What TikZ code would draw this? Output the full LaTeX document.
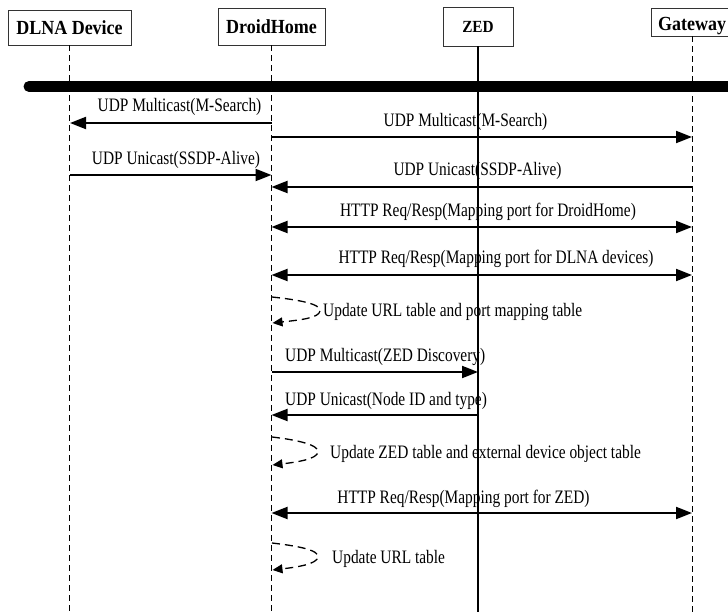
\documentclass[tikz,border=0pt]{standalone}
\usepackage{fontspec}
\setmainfont{Liberation Serif}
\newfontfamily\lblfont[FakeStretch=0.81]{Liberation Serif}
\newfontfamily\hdrfont[FakeStretch=0.9]{Liberation Serif}
\usetikzlibrary{arrows.meta}
\tikzset{
  hdr/.style={draw=black!80, line width=0.9pt, inner sep=0pt, font=\hdrfont\bfseries\fontsize{20}{22}\selectfont},
  hdrtext/.style={inner sep=0pt, font=\hdrfont\bfseries\fontsize{20}{22}\selectfont},
  life/.style={line width=0.8pt, dash pattern=on 6pt off 4pt},
  msg/.style={line width=2pt, -{Triangle[length=16pt,width=12pt]}},
  dmsg/.style={line width=2pt, {Triangle[length=16pt,width=12pt]}-{Triangle[length=16pt,width=12pt]}},
  selfloop/.style={line width=1.3pt, dash pattern=on 8pt off 5pt, -{Triangle[length=10pt,width=9pt]}},
  lbl/.style={inner sep=0pt, font=\lblfont\fontsize{19}{21}\selectfont},
}
\begin{document}
\begin{tikzpicture}[x=1pt,y=-1pt]
\useasboundingbox (0,0) rectangle (728,612);
\clip (0,0) rectangle (728,612);
% headers
\node[hdr, minimum width=123pt, minimum height=35pt] (dl) at (69.5,27.5) {DLNA Device};
\node[hdr, minimum width=107pt, minimum height=37pt] (dh) at (271.5,26.5) {DroidHome};
\node[hdr, minimum width=70pt, minimum height=39pt, font=\hdrfont\bfseries\fontsize{17}{19}\selectfont] (ze) at (478,26.5) {ZED};
\node[hdr, minimum width=82pt, minimum height=28pt] (gw) at (692,22) {};
\node[hdrtext] (gwt) at (692,26) {Gateway};
% lifelines
\coordinate (dlE) at (69.5,612);
\coordinate (dhE) at (271.5,612);
\coordinate (zeE) at (478,612);
\coordinate (gwE) at (692,612);
\draw[life] (dl.south) -- (dlE);
\draw[life] (dh.south) -- (dhE);
\draw[line width=1.2pt] (ze.south) -- (zeE);
\draw[life] (gw.south) -- (gwE);
% bus bar
\coordinate (busL) at (29,86.5);
\coordinate (busR) at (760,86.5);
\draw[line width=11pt, line cap=round] (busL) -- (busR);
% message endpoints
\foreach \n/\y in {1/123,2/137,3/175,4/187,5/227,6/275,8/372,9/415,11/513}{
  \coordinate (a\n) at (70,\y);
  \coordinate (b\n) at (271.5,\y);
  \coordinate (c\n) at (478,\y);
  \coordinate (g\n) at (692,\y);
}
\draw[msg] (b1) -- (a1);
\node[lbl] (l1) at (179.5,107) {UDP Multicast(M-Search)};
\draw[msg] (b2) -- (g2);
\node[lbl] (l2) at (465.5,122) {UDP Multicast(M-Search)};
\draw[msg] (a3) -- (b3);
\node[lbl] (l3) at (176,160) {UDP Unicast(SSDP-Alive)};
\draw[msg] (g4) -- (b4);
\node[lbl] (l4) at (477.5,171) {UDP Unicast(SSDP-Alive)};
\draw[dmsg] (b5) -- (g5);
\node[lbl] (l5) at (488,212) {HTTP Req/Resp(Mapping port for DroidHome)};
\draw[dmsg] (b6) -- (g6);
\node[lbl] (l6) at (496,259) {HTTP Req/Resp(Mapping port for DLNA devices)};
% self loop 1
\coordinate (s7) at (272,297);
\coordinate (p7) at (320,311);
\coordinate (e7) at (272.5,323);
\draw[selfloop] (s7) .. controls (300,300) and (321,304) .. (p7) .. controls (319,318) and (300,320) .. (e7);
\node[lbl, anchor=west] (l7) at (323,312) {Update URL table and port mapping table};
\draw[msg] (b8) -- (c8);
\node[lbl, anchor=west] (l8) at (285,357) {UDP Multicast(ZED Discovery)};
\draw[msg] (c9) -- (b9);
\node[lbl, anchor=west] (l9) at (285,401) {UDP Unicast(Node ID and type)};
% self loop 2
\coordinate (s10) at (272,437);
\coordinate (p10) at (318,452);
\coordinate (e10) at (272.5,465);
\draw[selfloop] (s10) .. controls (298,440) and (319,445) .. (p10) .. controls (317,459) and (298,462) .. (e10);
\node[lbl, anchor=west] (l10) at (330,454) {Update ZED table and external device object table};
\draw[dmsg] (b11) -- (g11);
\node[lbl] (l11) at (463.5,499) {HTTP Req/Resp(Mapping port for ZED)};
% self loop 3
\coordinate (s12) at (272,543);
\coordinate (p12) at (318,557);
\coordinate (e12) at (272.5,570);
\draw[selfloop] (s12) .. controls (298,546) and (319,550) .. (p12) .. controls (317,564) and (298,567) .. (e12);
\node[lbl, anchor=west] (l12) at (332,559) {Update URL table};
\end{tikzpicture}
\end{document}
